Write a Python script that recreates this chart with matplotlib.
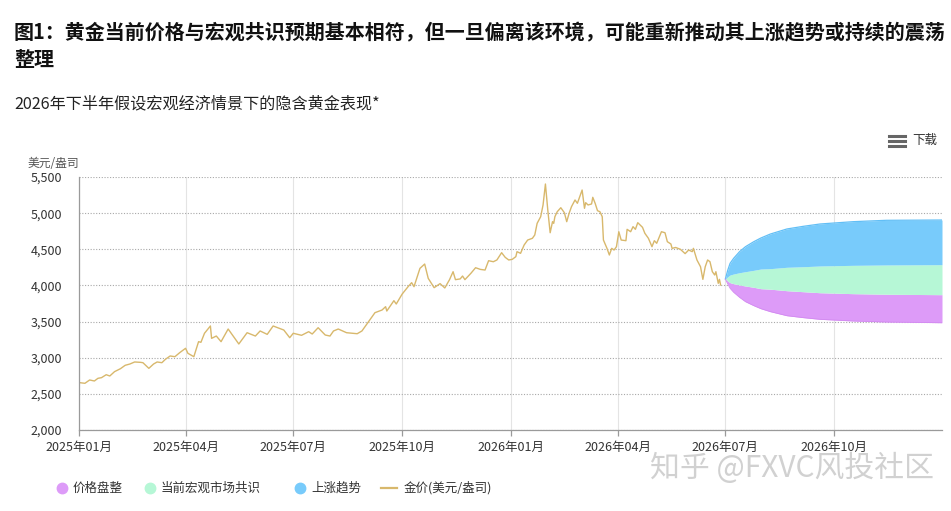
"""Gold price with 2026H2 macro scenario fans (recreated chart)."""
import matplotlib
matplotlib.use("Agg")
import matplotlib.pyplot as plt
import pandas as pd
from matplotlib.lines import Line2D

plt.rcParams["font.family"] = ["Noto Sans CJK SC", "DejaVu Sans"]

# --- data --------------------------------------------------------------
gold_dates = [
    "2025-01-02", "2025-01-06", "2025-01-10", "2025-01-14", "2025-01-17", "2025-01-20",
    "2025-01-24", "2025-01-27", "2025-01-31", "2025-02-05", "2025-02-09", "2025-02-13",
    "2025-02-17", "2025-02-22", "2025-02-24", "2025-03-01", "2025-03-05", "2025-03-08",
    "2025-03-12", "2025-03-15", "2025-03-19", "2025-03-23", "2025-03-27", "2025-04-01",
    "2025-04-03", "2025-04-08", "2025-04-12", "2025-04-14", "2025-04-17", "2025-04-22",
    "2025-04-23", "2025-04-27", "2025-05-01", "2025-05-07", "2025-05-16", "2025-05-23",
    "2025-05-30", "2025-06-03", "2025-06-09", "2025-06-14", "2025-06-23", "2025-06-28",
    "2025-07-01", "2025-07-08", "2025-07-14", "2025-07-17", "2025-07-22", "2025-07-28",
    "2025-08-01", "2025-08-04", "2025-08-08", "2025-08-15", "2025-08-24", "2025-08-28",
    "2025-09-03", "2025-09-08", "2025-09-14", "2025-09-17", "2025-09-18", "2025-09-24",
    "2025-09-26", "2025-10-01", "2025-10-06", "2025-10-09", "2025-10-11", "2025-10-16",
    "2025-10-20", "2025-10-23", "2025-10-28", "2025-11-02", "2025-11-06", "2025-11-10",
    "2025-11-13", "2025-11-15", "2025-11-19", "2025-11-21", "2025-11-23", "2025-11-28",
    "2025-12-02", "2025-12-06", "2025-12-10", "2025-12-13", "2025-12-17", "2025-12-20",
    "2025-12-24", "2025-12-27", "2025-12-30", "2026-01-02", "2026-01-05", "2026-01-06",
    "2026-01-09", "2026-01-12", "2026-01-15", "2026-01-19", "2026-01-21", "2026-01-23",
    "2026-01-26", "2026-01-28", "2026-01-30", "2026-02-01", "2026-02-03", "2026-02-05",
    "2026-02-06", "2026-02-07", "2026-02-09", "2026-02-12", "2026-02-15", "2026-02-17",
    "2026-02-19", "2026-02-21", "2026-02-24", "2026-02-26", "2026-02-28", "2026-03-02",
    "2026-03-04", "2026-03-05", "2026-03-07", "2026-03-10", "2026-03-11", "2026-03-13",
    "2026-03-15", "2026-03-17", "2026-03-19", "2026-03-20", "2026-03-23", "2026-03-25",
    "2026-03-27", "2026-03-29", "2026-03-31", "2026-04-02", "2026-04-04", "2026-04-08",
    "2026-04-09", "2026-04-12", "2026-04-14", "2026-04-16", "2026-04-18", "2026-04-22",
    "2026-04-24", "2026-04-27", "2026-04-30", "2026-05-02", "2026-05-04", "2026-05-08",
    "2026-05-11", "2026-05-13", "2026-05-16", "2026-05-17", "2026-05-20", "2026-05-24",
    "2026-05-28", "2026-05-31", "2026-06-03", "2026-06-04", "2026-06-07", "2026-06-10",
    "2026-06-12", "2026-06-14", "2026-06-16", "2026-06-18", "2026-06-20", "2026-06-22",
    "2026-06-23", "2026-06-25", "2026-06-26", "2026-06-27",
]
gold_price = [
    2654, 2646, 2692, 2678, 2715, 2724,
    2765, 2747, 2807, 2848, 2895, 2913,
    2941, 2936, 2931, 2853, 2913, 2941,
    2931, 2978, 3024, 3014, 3069, 3130,
    3061, 3014, 3222, 3213, 3338, 3439,
    3268, 3300, 3222, 3397, 3190, 3346,
    3300, 3370, 3323, 3439, 3383, 3277,
    3338, 3310, 3360, 3328, 3415, 3314,
    3300, 3370, 3397, 3346, 3332, 3370,
    3508, 3623, 3660, 3706, 3646, 3789,
    3743, 3881, 3983, 4038, 3983, 4236,
    4296, 4098, 3969, 4025, 3965, 4080,
    4190, 4080, 4090, 4130, 4080, 4167,
    4245, 4222, 4213, 4342, 4328, 4352,
    4453, 4389, 4352, 4361, 4398, 4467,
    4444, 4559, 4628, 4652, 4698, 4859,
    4951, 5113, 5403, 5043, 4729, 4882,
    4859, 4951, 5020, 5075, 5006, 4882,
    4997, 5089, 5182, 5136, 5228, 5320,
    5067, 5145, 5113, 5127, 5219, 5136,
    5034, 5020, 4951, 4628, 4513, 4421,
    4513, 4490, 4536, 4743, 4628, 4619,
    4776, 4743, 4813, 4776, 4868, 4804,
    4721, 4652, 4536, 4619, 4583, 4743,
    4729, 4605, 4573, 4513, 4525, 4500,
    4440, 4490, 4467, 4513, 4352, 4259,
    4084, 4259, 4352, 4328, 4190, 4144,
    4190, 4029, 4084, 4006,
]

# scenario fan: boundaries of the stacked bands
fan_dates = [
    "2026-07-01", "2026-07-03", "2026-07-05", "2026-07-08", "2026-07-13", "2026-07-18",
    "2026-07-25", "2026-07-31", "2026-08-08", "2026-08-22", "2026-09-05", "2026-09-19",
    "2026-10-17", "2026-11-14", "2026-12-31",
]
fan_bottom = [4089, 4020, 3960, 3905, 3835, 3775, 3720, 3678, 3637, 3581, 3554, 3531, 3508, 3494, 3484]
fan_consol_top = [4089, 4060, 4038, 4024, 4006, 3992, 3974, 3955, 3948, 3927, 3913, 3899, 3886, 3878, 3872]
fan_consensus_top = [4089, 4120, 4144, 4158, 4176, 4190, 4209, 4227, 4232, 4251, 4259, 4269, 4278, 4283, 4287]
fan_top = [4089, 4210, 4306, 4375, 4467, 4536, 4605, 4656, 4711, 4781, 4818, 4850, 4882, 4901, 4905]

x_tick_dates = ["2025-01-01", "2025-04-01", "2025-07-01", "2025-10-01",
                "2026-01-01", "2026-04-01", "2026-07-01", "2026-10-01"]
x_tick_labels = ["2025年01月", "2025年04月", "2025年07月", "2025年10月",
                 "2026年01月", "2026年04月", "2026年07月", "2026年10月"]
y_ticks = [2000, 2500, 3000, 3500, 4000, 4500, 5000, 5500]

legend_labels = ["价格盘整", "当前宏观市场共识", "上涨趋势", "金价(美元/盎司)"]

PURPLE = "#dd9bf8"
GREEN = "#b6f7d6"
BLUE = "#78cbfb"
GOLD = "#d8b86c"

W, H = 951, 511


def fx(x):
    return x / W


def fy(y):
    return 1 - y / H


fig = plt.figure(figsize=(W / 100, H / 100), dpi=100)
ax = fig.add_axes([fx(79), fy(430), fx(942) - fx(79), fy(177) - fy(430)])

gd = pd.to_datetime(gold_dates)
fd = pd.to_datetime(fan_dates)

ax.fill_between(fd, fan_bottom, fan_consol_top, color=PURPLE, lw=0)
ax.fill_between(fd, fan_consol_top, fan_consensus_top, color=GREEN, lw=0)
ax.fill_between(fd, fan_consensus_top, fan_top, color=BLUE, lw=0)
ax.plot(fd, fan_top, color="#62bff6", lw=0.9)
ax.plot(fd, fan_bottom, color="#d28af0", lw=0.6)
ax.plot(gd, gold_price, color=GOLD, lw=1.0)

ax.set_xlim(pd.Timestamp("2025-01-01"), pd.Timestamp("2026-12-31"))
ax.set_ylim(2000, 5500)
ax.set_yticks(y_ticks)
ax.set_yticklabels([f"{v:,}" for v in y_ticks])
ax.set_xticks(pd.to_datetime(x_tick_dates))
ax.set_xticklabels(x_tick_labels)

ax.grid(axis="y", linestyle=(0, (1, 1.5)), color="#a8a8a8", lw=0.8)
ax.grid(axis="x", linestyle="-", color="#e4e4e4", lw=0.8)
ax.set_axisbelow(True)
for s in ["top", "right"]:
    ax.spines[s].set_visible(False)
for s in ["left", "bottom"]:
    ax.spines[s].set_color("#9a9a9a")
    ax.spines[s].set_linewidth(0.9)
ax.tick_params(axis="y", length=0, pad=12, labelsize=9, labelcolor="#333333")
ax.tick_params(axis="x", length=4, width=0.9, color="#9a9a9a", pad=4,
               labelsize=9, labelcolor="#333333")

# titles
fig.text(fx(14), fy(33), "图1：黄金当前价格与宏观共识预期基本相符，但一旦偏离该环境，可能重新推动其上涨趋势或持续的震荡",
         fontsize=14.4, fontweight="bold", color="#111111", va="center", ha="left")
fig.text(fx(14), fy(60), "整理", fontsize=14.4, fontweight="bold", color="#111111",
         va="center", ha="left")
fig.text(fx(14), fy(104), "2026年下半年假设宏观经济情景下的隐含黄金表现*", fontsize=11.6,
         color="#222222", va="center", ha="left")

# unit label
fig.text(fx(28), fy(163), "美元/盎司", fontsize=8.5, color="#555555", va="center",
         ha="left", style="italic")

# download button
for yy in (136, 141, 146):
    fig.add_artist(Line2D([fx(889), fx(905)], [fy(yy), fy(yy)], color="#666666", lw=2.2))
fig.text(fx(912), fy(140), "下载", fontsize=9, color="#333333", va="center", ha="left")

# legend
leg_y = 488
circle_x = [62, 150, 300]
colors = [PURPLE, GREEN, BLUE]
for cx, c, lab in zip(circle_x, colors, legend_labels[:3]):
    fig.add_artist(Line2D([fx(cx)], [fy(leg_y)], marker="o", ms=7.5, color=c, lw=0))
    fig.text(fx(cx + 11), fy(leg_y), lab, fontsize=9, color="#333333", va="center", ha="left")
fig.add_artist(Line2D([fx(381), fx(397)], [fy(leg_y), fy(leg_y)], color=GOLD, lw=1.6))
fig.text(fx(404), fy(leg_y), legend_labels[3], fontsize=9, color="#333333",
         va="center", ha="left")

# watermark
fig.text(fx(650), fy(468), "知乎 @FXVC风投社区", fontsize=21.5, color="#cccccc",
         va="center", ha="left", alpha=0.9)

fig.savefig("out.png", dpi=100)
